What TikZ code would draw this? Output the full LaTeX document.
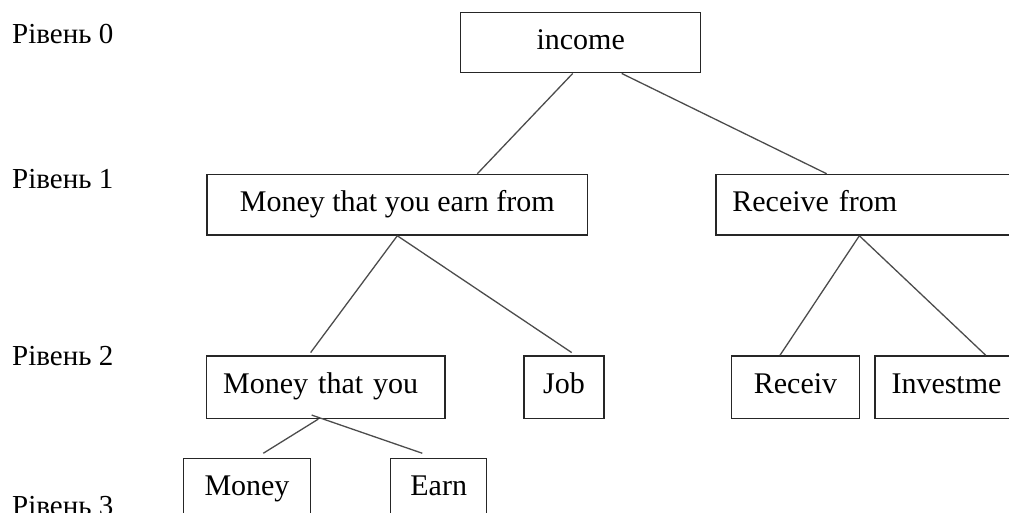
\documentclass[tikz,border=0pt]{standalone}
\usepackage{fontspec}
\setmainfont{Liberation Serif}
\begin{document}
\begin{tikzpicture}[x=1pt,y=-1pt,
  box/.style={draw=black!85,line width=1.5pt,inner sep=0pt,minimum height=60pt,text height=21pt,text depth=7.5pt,font=\fontsize{30}{36}\selectfont},
  lbox/.style={box,align=left,inner xsep=16.5pt},
  level/.style={anchor=base west,inner sep=0pt,font=\fontsize{29}{35}\selectfont},
  link/.style={draw=black!70,line width=1.3pt}]

\useasboundingbox (0,0) rectangle (1009,512);
\clip (0,0) rectangle (1009,512);

\foreach \n/\y in {0/43.3,1/188,2/365,3/515.3}{
    \node[level] (level\n) at (12,\y) {Рівень \n};
}

%level 0
\node[box,minimum width=240pt] (income) at (580.7,42.7) {income};
%level 1
\node[box,minimum width=380.5pt,minimum height=60.5pt] (earnfrom) at (397.3,204.75) {Money that you earn from};
\node[lbox,text width=297pt,minimum height=60.5pt] (receivefrom) at (880.85,204.75) {Receive from};
%level 2
\node[lbox,text width=205.3pt,minimum height=62.3pt] (thatyou) at (325.85,387.15) {Money that you};
\node[box,minimum width=80pt,minimum height=62.3pt] (job) at (564,387.15) {Job};
\node[box,minimum width=127.6pt,minimum height=62.3pt] (receiv) at (795.5,387.15) {Receiv};
\node[lbox,text width=127pt,minimum height=62.3pt] (investme) at (955,387.15) {Investme};
%level 3
\node[box,minimum width=127.4pt] (money) at (247,488.3) {Money};
\node[box,minimum width=96pt] (earn) at (438.7,488.3) {Earn};

%links
\foreach \a/\ax/\ay/\b/\bx/\by in {income/-8/0/earnfrom/80/0, income/41/0/receivefrom/-54.2/0,
    earnfrom/0/0/thatyou/-15.2/2.7, earnfrom/0/0/job/7.7/2.7,
    receivefrom/-21.5/0/receiv/-15.5/0, receivefrom/-21.5/0/investme/30.7/0,
    thatyou/-7.5/0/money/16.3/4.3, thatyou/-14.2/4/earn/-16.4/4.3}{
    \path[link] ([xshift=\ax pt,yshift=\ay pt]\a.south) -- ([xshift=\bx pt,yshift=\by pt]\b.north);
}

\end{tikzpicture}
\end{document}
